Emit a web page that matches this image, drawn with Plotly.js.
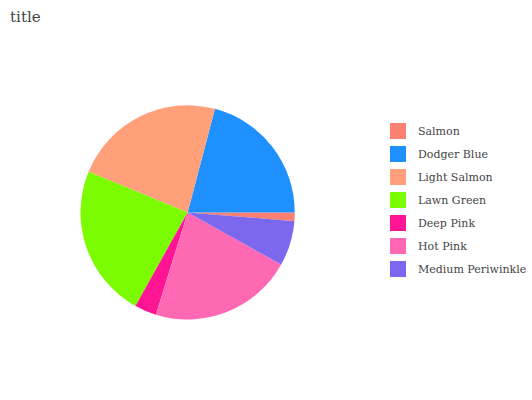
<!DOCTYPE html>
<html>
<head>
<meta charset="utf-8">
<script src="https://cdn.plot.ly/plotly-3.0.1.min.js"></script>
<style>html,body{margin:0;padding:0;background:#fff;}#chart{width:532px;height:400px;}</style>
</head>
<body>
<div id="chart"></div>
<script>
var labels = ["Salmon", "Dodger Blue", "Light Salmon", "Lawn Green", "Deep Pink", "Hot Pink", "Medium Periwinkle"];
var values = [1.3, 20.9, 22.9, 23.1, 3.3, 21.7, 6.8];
var colors = ["#FA8072", "#1E90FF", "#FFA07A", "#7CFC00", "#FF1493", "#FF69B4", "#7B68EE"];

var FONT = "DejaVu Serif";

var pie = {
  type: "pie",
  labels: labels,
  values: values,
  sort: false,
  direction: "counterclockwise",
  rotation: 90,
  textinfo: "none",
  showlegend: false,
  marker: {colors: colors, line: {width: 0}},
  domain: {x: [0.1555, 0.569], y: [0.194, 0.744]}
};

// legend-only entries (one per category) so the legend swatches are large squares
var legendTraces = labels.map(function (lab, i) {
  return {
    type: "scatter",
    mode: "markers",
    x: [null],
    y: [null],
    name: lab,
    legendgroup: "g" + i,
    showlegend: true,
    hoverinfo: "skip",
    marker: {symbol: "square", size: 16, color: colors[i], line: {width: 0}}
  };
});

var layout = {
  width: 532,
  height: 400,
  margin: {l: 0, r: 0, t: 0, b: 0},
  paper_bgcolor: "#ffffff",
  plot_bgcolor: "rgba(0,0,0,0)",
  font: {family: FONT, size: 11, color: "#444444"},
  title: {text: "title", font: {family: FONT, size: 15, color: "#444444"},
          x: 0.019, xanchor: "left", y: 0.957, yanchor: "middle"},
  xaxis: {visible: false},
  yaxis: {visible: false},
  showlegend: true,
  legend: {x: 0.73, xanchor: "left", y: 0.5, yanchor: "middle",
           traceorder: "grouped", tracegroupgap: 4, itemwidth: 30,
           font: {family: FONT, size: 11, color: "#444444"}}
};

Plotly.newPlot("chart", [pie].concat(legendTraces), layout, {displayModeBar: false, staticPlot: true});
</script>
</body>
</html>
